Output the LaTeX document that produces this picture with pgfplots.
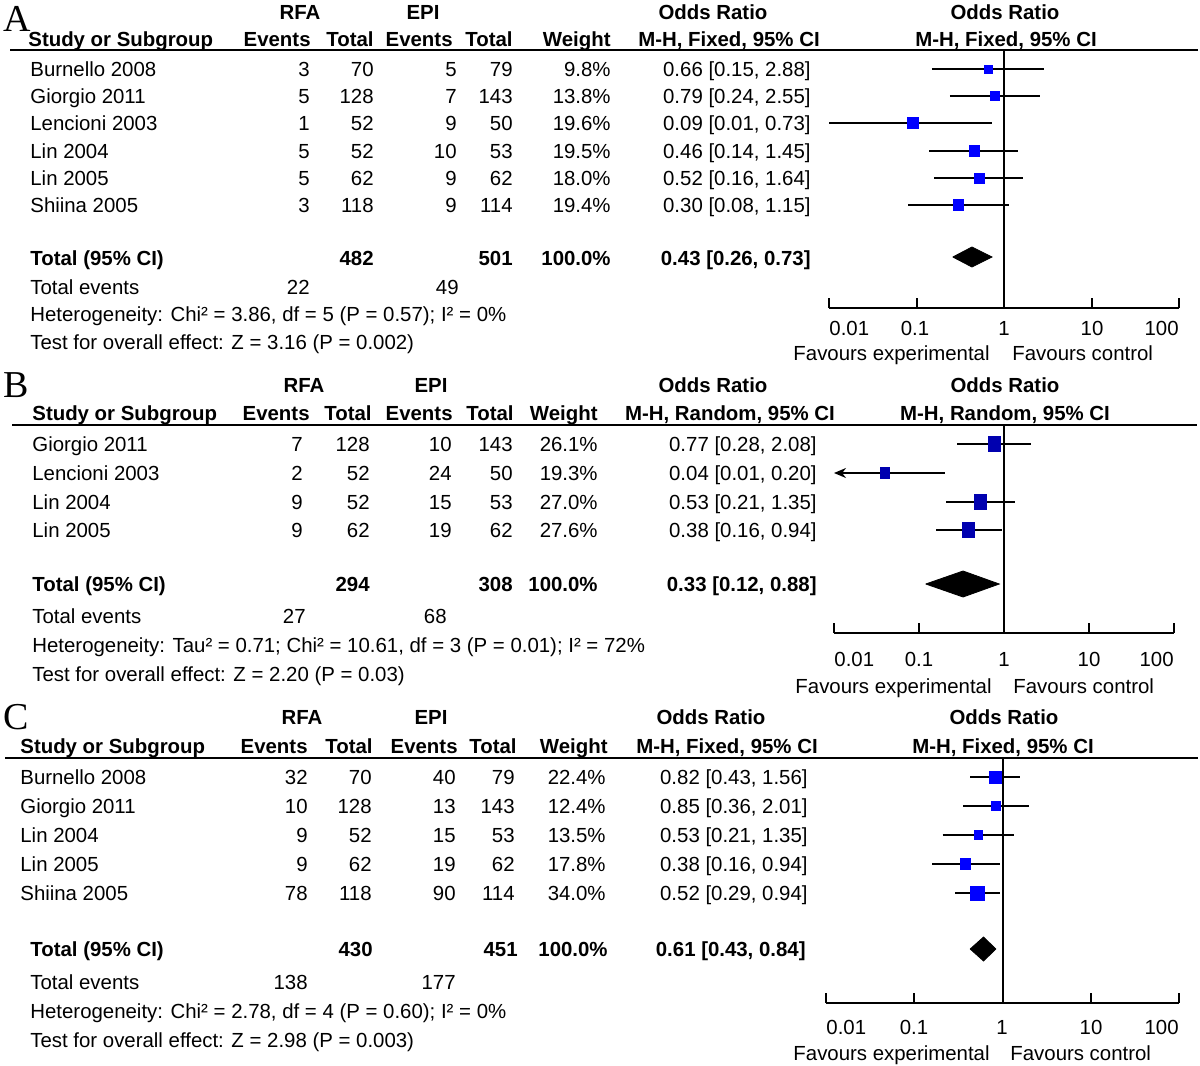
\documentclass[border=0pt]{standalone}
\usepackage{fontspec}
\setmainfont{Liberation Sans}
\newfontfamily\seriffont{Liberation Serif}
\usepackage{pgfplots}
\pgfplotsset{compat=1.18}
\usetikzlibrary{arrows.meta}
\definecolor{sqA}{RGB}{0,0,255}
\definecolor{sqB}{RGB}{0,0,175}
\newcommand{\tl}[3]{\node[anchor=base west,inner sep=0pt] at (#1,#2) {#3};}
\newcommand{\tr}[3]{\node[anchor=base east,inner sep=0pt] at (#1,#2) {#3};}
\newcommand{\tc}[3]{\node[anchor=base,inner sep=0pt] at (#1,#2) {#3};}
\pgfplotsset{every axis/.append style={
  scale only axis, xmode=log, xmin=0.01, xmax=100,
  axis x line=bottom, axis y line=none,
  x axis line style={-, line width=1pt},
  xtick={0.01,0.1,1,10,100}, xticklabels={{},{},{},{},{}}, xminorticks=false,
  xtick align=inside, major tick length=5pt,
  xtick style={black, line width=1pt},
  clip=false, anchor=south west}}
\begin{document}
\begin{tikzpicture}[every node/.style={font=\fontsize{10.2}{12}\selectfont}]
\begin{scope}[x=0.5pt,y=-0.5pt]
\useasboundingbox (0,0) rectangle (1200,1066);
% ================= Panel A =================
\node[anchor=base west,inner sep=0pt,font=\seriffont\fontsize{19}{21}\selectfont] at (3,31) {A};
\tc{300}{19}{\bfseries RFA}\tc{423}{19}{\bfseries EPI}\tc{713}{19}{\bfseries Odds Ratio}\tc{1005}{19}{\bfseries Odds Ratio}
\tl{28}{46}{\bfseries Study or Subgroup}\tr{311}{46}{\bfseries Events}\tr{374}{46}{\bfseries Total}\tr{453}{46}{\bfseries Events}\tr{513}{46}{\bfseries Total}\tr{611}{46}{\bfseries Weight}
\tc{729}{46}{\bfseries M-H, Fixed, 95\% CI}\tc{1006}{46}{\bfseries M-H, Fixed, 95\% CI}
\draw[line width=1pt] (10,50) -- (1198,50);
\tl{30}{76}{Burnello 2008}\tr{310}{76}{3}\tr{374}{76}{70}\tr{457}{76}{5}\tr{513}{76}{79}\tr{611}{76}{9.8\%}\tr{811}{76}{0.66 [0.15, 2.88]}
\tl{30}{103}{Giorgio 2011}\tr{310}{103}{5}\tr{374}{103}{128}\tr{457}{103}{7}\tr{513}{103}{143}\tr{611}{103}{13.8\%}\tr{811}{103}{0.79 [0.24, 2.55]}
\tl{30}{130}{Lencioni 2003}\tr{310}{130}{1}\tr{374}{130}{52}\tr{457}{130}{9}\tr{513}{130}{50}\tr{611}{130}{19.6\%}\tr{811}{130}{0.09 [0.01, 0.73]}
\tl{30}{158}{Lin 2004}\tr{310}{158}{5}\tr{374}{158}{52}\tr{457}{158}{10}\tr{513}{158}{53}\tr{611}{158}{19.5\%}\tr{811}{158}{0.46 [0.14, 1.45]}
\tl{30}{185}{Lin 2005}\tr{310}{185}{5}\tr{374}{185}{62}\tr{457}{185}{9}\tr{513}{185}{62}\tr{611}{185}{18.0\%}\tr{811}{185}{0.52 [0.16, 1.64]}
\tl{30}{212}{Shiina 2005}\tr{310}{212}{3}\tr{374}{212}{118}\tr{457}{212}{9}\tr{513}{212}{114}\tr{611}{212}{19.4\%}\tr{811}{212}{0.30 [0.08, 1.15]}
\tl{30}{265}{\bfseries Total (95\% CI)}\tr{374}{265}{\bfseries 482}\tr{513}{265}{\bfseries 501}\tr{611}{265}{\bfseries 100.0\%}\tr{811}{265}{\bfseries 0.43 [0.26, 0.73]}
\tl{30}{294}{Total events}\tr{310}{294}{22}\tr{459}{294}{49}
\tl{30}{321}{Heterogeneity: Chi² = 3.86, df = 5 (P = 0.57); I² = 0\%}
\tl{30}{349}{Test for overall effect: Z = 3.16 (P = 0.002)}
\tl{829}{335}{0.01}\tc{915}{335}{0.1}\tc{1004}{335}{1}\tc{1092}{335}{10}\tr{1179}{335}{100}
\tr{990}{360}{Favours experimental}\tl{1012}{360}{Favours control}
% ================= Panel B =================
\node[anchor=base west,inner sep=0pt,font=\seriffont\fontsize{19}{21}\selectfont] at (3,397) {B};
\tc{304}{392}{\bfseries RFA}\tc{431}{392}{\bfseries EPI}\tc{713}{392}{\bfseries Odds Ratio}\tc{1005}{392}{\bfseries Odds Ratio}
\tl{32}{420}{\bfseries Study or Subgroup}\tr{310}{420}{\bfseries Events}\tr{372}{420}{\bfseries Total}\tr{453}{420}{\bfseries Events}\tr{514}{420}{\bfseries Total}\tr{598}{420}{\bfseries Weight}
\tc{730}{420}{\bfseries M-H, Random, 95\% CI}\tc{1005}{420}{\bfseries M-H, Random, 95\% CI}
\draw[line width=1pt] (12,425) -- (1197,425);
\tl{32}{451}{Giorgio 2011}\tr{303}{451}{7}\tr{370}{451}{128}\tr{452}{451}{10}\tr{513}{451}{143}\tr{598}{451}{26.1\%}\tr{817}{451}{0.77 [0.28, 2.08]}
\tl{32}{480}{Lencioni 2003}\tr{303}{480}{2}\tr{370}{480}{52}\tr{452}{480}{24}\tr{513}{480}{50}\tr{598}{480}{19.3\%}\tr{817}{480}{0.04 [0.01, 0.20]}
\tl{32}{509}{Lin 2004}\tr{303}{509}{9}\tr{370}{509}{52}\tr{452}{509}{15}\tr{513}{509}{53}\tr{598}{509}{27.0\%}\tr{817}{509}{0.53 [0.21, 1.35]}
\tl{32}{537}{Lin 2005}\tr{303}{537}{9}\tr{370}{537}{62}\tr{452}{537}{19}\tr{513}{537}{62}\tr{598}{537}{27.6\%}\tr{817}{537}{0.38 [0.16, 0.94]}
\tl{32}{591}{\bfseries Total (95\% CI)}\tr{370}{591}{\bfseries 294}\tr{513}{591}{\bfseries 308}\tr{598}{591}{\bfseries 100.0\%}\tr{817}{591}{\bfseries 0.33 [0.12, 0.88]}
\tl{32}{623}{Total events}\tr{306}{623}{27}\tr{447}{623}{68}
\tl{32}{652}{Heterogeneity: Tau² = 0.71; Chi² = 10.61, df = 3 (P = 0.01); I² = 72\%}
\tl{32}{681}{Test for overall effect: Z = 2.20 (P = 0.03)}
\tl{834}{666}{0.01}\tc{919}{666}{0.1}\tc{1004}{666}{1}\tc{1089}{666}{10}\tr{1174}{666}{100}
\tr{992}{693}{Favours experimental}\tl{1013}{693}{Favours control}
% ================= Panel C =================
\node[anchor=base west,inner sep=0pt,font=\seriffont\fontsize{19}{21}\selectfont] at (3,729) {C};
\tc{302}{724}{\bfseries RFA}\tc{431}{724}{\bfseries EPI}\tc{711}{724}{\bfseries Odds Ratio}\tc{1004}{724}{\bfseries Odds Ratio}
\tl{20}{753}{\bfseries Study or Subgroup}\tr{308}{753}{\bfseries Events}\tr{373}{753}{\bfseries Total}\tr{458}{753}{\bfseries Events}\tr{517}{753}{\bfseries Total}\tr{608}{753}{\bfseries Weight}
\tc{727}{753}{\bfseries M-H, Fixed, 95\% CI}\tc{1003}{753}{\bfseries M-H, Fixed, 95\% CI}
\draw[line width=1pt] (5,758) -- (1198,758);
\tl{20}{784}{Burnello 2008}\tr{308}{784}{32}\tr{372}{784}{70}\tr{456}{784}{40}\tr{515}{784}{79}\tr{606}{784}{22.4\%}\tr{808}{784}{0.82 [0.43, 1.56]}
\tl{20}{813}{Giorgio 2011}\tr{308}{813}{10}\tr{372}{813}{128}\tr{456}{813}{13}\tr{515}{813}{143}\tr{606}{813}{12.4\%}\tr{808}{813}{0.85 [0.36, 2.01]}
\tl{20}{842}{Lin 2004}\tr{308}{842}{9}\tr{372}{842}{52}\tr{456}{842}{15}\tr{515}{842}{53}\tr{606}{842}{13.5\%}\tr{808}{842}{0.53 [0.21, 1.35]}
\tl{20}{871}{Lin 2005}\tr{308}{871}{9}\tr{372}{871}{62}\tr{456}{871}{19}\tr{515}{871}{62}\tr{606}{871}{17.8\%}\tr{808}{871}{0.38 [0.16, 0.94]}
\tl{20}{900}{Shiina 2005}\tr{308}{900}{78}\tr{372}{900}{118}\tr{456}{900}{90}\tr{515}{900}{114}\tr{606}{900}{34.0\%}\tr{808}{900}{0.52 [0.29, 0.94]}
\tl{30}{956}{\bfseries Total (95\% CI)}\tr{373}{956}{\bfseries 430}\tr{518}{956}{\bfseries 451}\tr{608}{956}{\bfseries 100.0\%}\tr{806}{956}{\bfseries 0.61 [0.43, 0.84]}
\tl{30}{989}{Total events}\tr{308}{989}{138}\tr{456}{989}{177}
\tl{30}{1018}{Heterogeneity: Chi² = 2.78, df = 4 (P = 0.60); I² = 0\%}
\tl{30}{1047}{Test for overall effect: Z = 2.98 (P = 0.003)}
\tl{826}{1034}{0.01}\tc{914}{1034}{0.1}\tc{1002}{1034}{1}\tc{1091}{1034}{10}\tr{1179}{1034}{100}
\tr{990}{1060}{Favours experimental}\tl{1010}{1060}{Favours control}
\end{scope}
% ---------- Forest A ----------
\begin{axis}[at={(414.5pt,-154pt)}, width=175pt, height=129pt, ymin=-308, ymax=-50]
\addplot[black, line width=1pt] coordinates {(1,-308) (1,-50)};
\addplot[black, line width=0.8pt] coordinates {(0.15,-69) (2.88,-69)};
\addplot[black, line width=0.8pt] coordinates {(0.24,-96) (2.55,-96)};
\addplot[black, line width=0.8pt] coordinates {(0.01,-123) (0.73,-123)};
\addplot[black, line width=0.8pt] coordinates {(0.14,-151) (1.45,-151)};
\addplot[black, line width=0.8pt] coordinates {(0.16,-178) (1.64,-178)};
\addplot[black, line width=0.8pt] coordinates {(0.08,-205) (1.15,-205)};
\addplot[only marks, mark=square*, mark size=2pt, color=sqA] coordinates {(0.66,-69)};
\addplot[only marks, mark=square*, mark size=2.3pt, color=sqA] coordinates {(0.79,-96)};
\addplot[only marks, mark=square*, mark size=2.8pt, color=sqA] coordinates {(0.09,-123)};
\addplot[only marks, mark=square*, mark size=2.6pt, color=sqA] coordinates {(0.46,-151)};
\addplot[only marks, mark=square*, mark size=2.5pt, color=sqA] coordinates {(0.52,-178)};
\addplot[only marks, mark=square*, mark size=2.6pt, color=sqA] coordinates {(0.30,-205)};
\addplot[fill=black, draw=black] coordinates {(0.26,-257) (0.43,-247) (0.73,-257) (0.43,-267) (0.26,-257)};
\end{axis}
% ---------- Forest B ----------
\begin{axis}[at={(417pt,-316.5pt)}, width=170pt, height=104pt, ymin=-633, ymax=-425]
\addplot[black, line width=1pt] coordinates {(1,-633) (1,-425)};
\addplot[black, line width=0.8pt] coordinates {(0.28,-444) (2.08,-444)};
\addplot[black, line width=0.8pt, -{Stealth[length=6pt,width=5pt]}] coordinates {(0.20,-473) (0.01,-473)};
\addplot[black, line width=0.8pt] coordinates {(0.21,-502) (1.35,-502)};
\addplot[black, line width=0.8pt] coordinates {(0.16,-530) (0.94,-530)};
\addplot[only marks, mark=square*, mark size=3pt, mark options={yscale=1.2}, color=sqB] coordinates {(0.77,-444)};
\addplot[only marks, mark=square*, mark size=2.3pt, mark options={yscale=1.2}, color=sqB] coordinates {(0.04,-473)};
\addplot[only marks, mark=square*, mark size=3.1pt, mark options={yscale=1.2}, color=sqB] coordinates {(0.53,-502)};
\addplot[only marks, mark=square*, mark size=3.1pt, mark options={yscale=1.2}, color=sqB] coordinates {(0.38,-530)};
\addplot[fill=black, draw=black] coordinates {(0.12,-584) (0.33,-571) (0.88,-584) (0.33,-597) (0.12,-584)};
\end{axis}
% ---------- Forest C ----------
\begin{axis}[at={(413pt,-501.5pt)}, width=176.5pt, height=122.5pt, ymin=-1003, ymax=-758]
\addplot[black, line width=1pt] coordinates {(1,-1003) (1,-758)};
\addplot[black, line width=0.8pt] coordinates {(0.43,-777) (1.56,-777)};
\addplot[black, line width=0.8pt] coordinates {(0.36,-806) (2.01,-806)};
\addplot[black, line width=0.8pt] coordinates {(0.21,-835) (1.35,-835)};
\addplot[black, line width=0.8pt] coordinates {(0.16,-864) (0.94,-864)};
\addplot[black, line width=0.8pt] coordinates {(0.29,-893) (0.94,-893)};
\addplot[only marks, mark=square*, mark size=3pt, color=sqA] coordinates {(0.82,-777)};
\addplot[only marks, mark=square*, mark size=2.2pt, color=sqA] coordinates {(0.85,-806)};
\addplot[only marks, mark=square*, mark size=2.1pt, color=sqA] coordinates {(0.53,-835)};
\addplot[only marks, mark=square*, mark size=2.6pt, color=sqA] coordinates {(0.38,-864)};
\addplot[only marks, mark=square*, mark size=3.5pt, color=sqA] coordinates {(0.52,-893)};
\addplot[fill=black, draw=black] coordinates {(0.43,-949) (0.61,-937) (0.84,-949) (0.61,-961) (0.43,-949)};
\end{axis}
\end{tikzpicture}
\end{document}
